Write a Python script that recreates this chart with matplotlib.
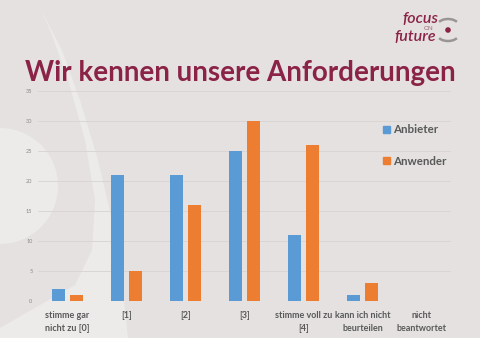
import numpy as np
import matplotlib
matplotlib.use("Agg")
from matplotlib import pyplot as plt
from matplotlib.patches import Circle, Polygon, Patch, Arc

categories = ["stimme gar\nnicht zu [0]", "[1]", "[2]", "[3]",
              "stimme voll zu\n[4]", "kann ich nicht\nbeurteilen", "nicht\nbeantwortet"]
anbieter = [2, 21, 21, 25, 11, 1, 0]
anwender = [1, 5, 16, 30, 26, 3, 0]
yticks = [0, 5, 10, 15, 20, 25, 30, 35]

BLUE = "#5B9BD5"
ORANGE = "#ED7D31"
WINE = "#8B2346"
GRAYTXT = "#595959"
BG = "#E4E1E0"

plt.rcParams['font.family'] = ['Lato', 'DejaVu Sans']

fig = plt.figure(figsize=(4.8, 3.38), dpi=100)
fig.patch.set_facecolor(BG)

# background decoration in pixel coords
bg = fig.add_axes([0, 0, 1, 1], zorder=0)
bg.set_xlim(0, 480)
bg.set_ylim(338, 0)
bg.axis('off')
bg.add_patch(Circle((0, 186), 58, color="#EDEBEA", lw=0))
band = [(40, 8), (62, 50), (80, 100), (98, 160), (112, 220), (122, 280), (128, 338),
        (0, 338), (0, 328), (40, 305), (75, 285), (92, 250), (95, 200),
        (85, 140), (68, 80), (50, 30)]
bg.add_patch(Polygon(band, closed=True, color="#EDEBEA", lw=0))

bg.text(240, 73, "Wir kennen unsere Anforderungen", color=WINE, fontsize=20,
        fontweight='bold', ha='center', va='center')

# logo
bg.text(438, 19, "focus", color=WINE, fontsize=11.5, style='italic', fontweight='semibold',
        ha='right', va='center')
bg.text(433, 28.5, "ON", color="#A06070", fontsize=4.5, ha='right', va='center')
bg.text(436, 37, "future", color=WINE, fontsize=11.5, style='italic', fontweight='semibold',
        ha='right', va='center')
bg.add_patch(Arc((448, 34), 22, 14, theta1=25, theta2=155, color="#9A9594", lw=1.8))
bg.add_patch(Arc((448, 26), 22, 14, theta1=205, theta2=335, color="#9A9594", lw=1.8))
bg.add_patch(Circle((448, 30), 2.8, color=WINE, lw=0))

# chart
ax = fig.add_axes([38 / 480, 37 / 338, 413 / 480, 210 / 338], zorder=1)
ax.patch.set_alpha(0)
x = np.arange(len(categories))
w = 0.22
ax.bar(x - 0.145, anbieter, w, color=BLUE, zorder=3)
ax.bar(x + 0.145, anwender, w, color=ORANGE, zorder=3)
ax.set_xlim(-0.5, len(categories) - 0.5)
ax.set_ylim(0, 35)
ax.set_yticks(yticks)
ax.grid(axis='y', color="#D6D3D2", lw=0.6, zorder=0)
for s in ax.spines.values():
    s.set_visible(False)
ax.tick_params(length=0)
ax.tick_params(axis='y', labelsize=4, labelcolor="#8A8A8A", pad=4)
ax.set_xticks(x)
ax.set_xticklabels(categories, fontsize=6.5, fontweight='bold', color=GRAYTXT,
                   linespacing=1.65)
ax.tick_params(axis='x', pad=7)

handles = [Patch(color=BLUE, label="Anbieter"), Patch(color=ORANGE, label="Anwender")]
leg = ax.legend(handles=handles, loc='upper left', bbox_to_anchor=(0.81, 0.89),
                frameon=False, handlelength=0.6, handleheight=0.6, handletextpad=0.3,
                labelspacing=1.75, prop={'size': 8.3, 'weight': 'bold'})
for t in leg.get_texts():
    t.set_color(GRAYTXT)

fig.savefig("out.png", dpi=100, facecolor=fig.get_facecolor())
